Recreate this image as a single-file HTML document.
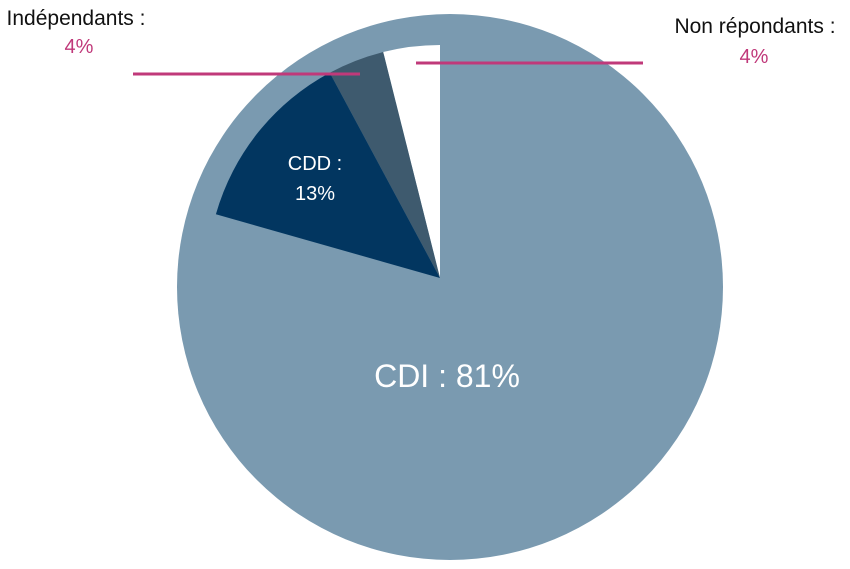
<!DOCTYPE html>
<html><head><meta charset="utf-8"><style>
body{margin:0;width:850px;height:569px;background:#fff;overflow:hidden}
svg{display:block;font-family:"Liberation Sans",sans-serif}
</style></head><body>
<svg id="c" width="850" height="569">
<circle cx="450" cy="287" r="273" fill="#7a9ab0"/>
<g id="slices"></g>
<line x1="133" y1="74" x2="360" y2="74" stroke="#c0397a" stroke-width="3"/>
<line x1="416" y1="63" x2="643" y2="63" stroke="#c0397a" stroke-width="3"/>
<text x="76" y="25" font-size="21" text-anchor="middle" fill="#111">Indépendants :</text>
<text x="79" y="53" font-size="20" text-anchor="middle" fill="#c0397a">4%</text>
<text x="755" y="33" font-size="21" text-anchor="middle" fill="#111">Non répondants :</text>
<text x="754" y="63" font-size="20" text-anchor="middle" fill="#c0397a">4%</text>
<text x="315" y="170" font-size="20" text-anchor="middle" fill="#fff">CDD :</text>
<text x="315" y="200" font-size="20" text-anchor="middle" fill="#fff">13%</text>
<text x="447" y="387" font-size="32" text-anchor="middle" fill="#fff">CDI : 81%</text>
</svg>
<script>
const categories=["Non répondants","Indépendants","CDD"];
const values=[4,4,13];
const cdiValue=81;
const colors=["#ffffff","#3e5a6e","#023660"];
const total=values.reduce((a,b)=>a+b,0)+cdiValue;
const cx=440,cy=278,r=233;
const g=document.getElementById('slices');
function pt(deg){const a=deg*Math.PI/180;return [cx-r*Math.sin(a),cy-r*Math.cos(a)];}
let start=0;
values.forEach((v,i)=>{
  const end=start+v/total*360;
  const p1=pt(start),p2=pt(end);
  const p=document.createElementNS('http://www.w3.org/2000/svg','path');
  p.setAttribute('d',`M${cx},${cy} L${p1[0]},${p1[1]} A${r},${r} 0 0 0 ${p2[0]},${p2[1]} Z`);
  p.setAttribute('fill',colors[i]);
  
  
  g.appendChild(p);
  start=end;
});
</script>
</body></html>
